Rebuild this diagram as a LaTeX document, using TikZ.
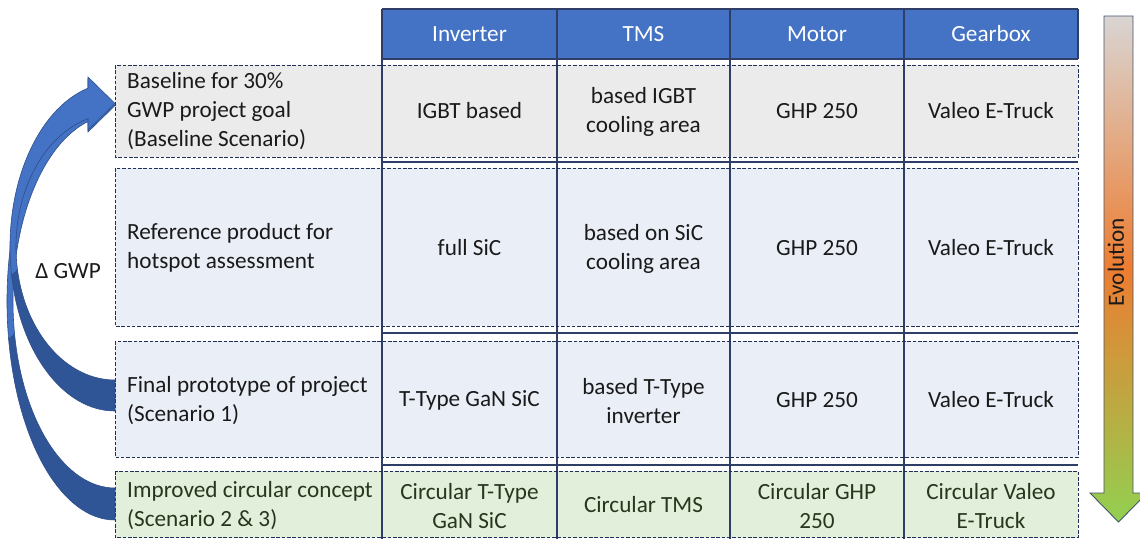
\documentclass[tikz,border=0pt]{standalone}
\usepackage{fontspec}
\setmainfont{Carlito}
\usetikzlibrary{calc}
\definecolor{hdr}{HTML}{4472C4}
\definecolor{gridc}{HTML}{2F3E67}
\definecolor{dashc}{HTML}{1F2F58}
\definecolor{rowgray}{HTML}{EBEBEB}
\definecolor{rowblue}{HTML}{EAEEF7}
\definecolor{rowgreen}{HTML}{E2EFDA}
\definecolor{txt}{HTML}{1A1A1A}
\definecolor{txtg}{HTML}{26371E}
\definecolor{arrlight}{HTML}{4472C4}
\definecolor{arrdark}{HTML}{2F5597}
\definecolor{arredge}{HTML}{2F4F8A}
\definecolor{evtop}{HTML}{D9D5D3}
\definecolor{evmid}{HTML}{ED7D31}
\definecolor{evbot}{HTML}{92D050}
\definecolor{evedge}{HTML}{44546A}
\begin{document}
\begin{tikzpicture}[x=1pt,y=1pt,
  every node/.style={font=\fontsize{23.2}{29}\selectfont, inner sep=0pt},
  cell/.style={align=center, text=txt},
  gcell/.style={align=center, text=txtg},
  hcell/.style={align=center, text=white},
  lbl/.style={align=left, anchor=west, text=txt},
  rowbox/.style={draw=dashc, line width=1pt, dash pattern=on 3.5pt off 1.8pt},
  gridline/.style={draw=gridc, line width=1.3pt},
  arrdk/.style={fill=arrdark, draw=arredge, line width=0.6pt},
  arrlt/.style={fill=arrlight, draw=arredge, line width=0.6pt}]
\useasboundingbox (0,0) rectangle (1140,-539);
\clip (0,0) rectangle (1140,-539);

% row fills
\fill[rowgray]  (115,-65)  rectangle (1078,-157);
\fill[rowblue]  (115,-168) rectangle (1078,-326);
\fill[rowblue]  (115,-341) rectangle (1078,-457);
\fill[rowgreen] (115,-471) rectangle (1078,-537.5);

% header
\fill[hdr] (382,-9) rectangle (1078,-59);
\draw[gridline] (382,-9) -- (1078,-9);
\draw[gridline] (382,-59) -- (1078,-59);
\draw[gridline] (1078,-9) -- (1078,-59);
\foreach \yy in {162,333,465} \draw[gridline] (382,-\yy) -- (1078,-\yy);
\foreach \xx in {382,557,730,904} \draw[gridline] (\xx,-9) -- (\xx,-539);

% dashed row borders
\draw[rowbox] (115,-65)  rectangle (1078,-157);
\draw[rowbox] (115,-168) rectangle (1078,-326);
\draw[rowbox] (115,-341) rectangle (1078,-457);
\draw[rowbox] (115,-471) rectangle (1078,-537.5);

% header texts
\node[hcell] (hinv) at (469.5,-34) {Inverter};
\node[hcell] (htms) at (643.5,-34) {TMS};
\node[hcell] (hmot) at (817,-34) {Motor};
\node[hcell] (hgear) at (991,-34) {Gearbox};

% row 1
\node[lbl] (l1) at (127,-111.5) {Baseline for 30\%\\GWP project goal\\(Baseline Scenario)};
\node[cell] (c11) at (469.5,-111) {IGBT based};
\node[cell] (c12) at (643.5,-112) {based IGBT\\cooling area};
\node[cell] (c13) at (817,-111) {GHP 250};
\node[cell] (c14) at (991,-111) {Valeo E-Truck};

% row 2
\node[lbl] (l2) at (127,-248) {Reference product for\\hotspot assessment};
\node[cell] (c21) at (469.5,-248) {full SiC};
\node[cell] (c22) at (643.5,-249) {based on SiC\\cooling area};
\node[cell] (c23) at (817,-248) {GHP 250};
\node[cell] (c24) at (991,-248) {Valeo E-Truck};

% row 3
\node[lbl] (l3) at (127,-401) {Final prototype of project\\(Scenario 1)};
\node[cell] (c31) at (469.5,-400) {T-Type GaN SiC};
\node[cell] (c32) at (643.5,-401) {based T-Type\\inverter};
\node[cell] (c33) at (817,-400) {GHP 250};
\node[cell] (c34) at (991,-400) {Valeo E-Truck};

% row 4
\node[lbl, text=txtg] (l4) at (127,-506) {Improved circular concept\\(Scenario 2 \& 3)};
\node[gcell] (c41) at (469.5,-506) {Circular T-Type\\GaN SiC};
\node[gcell] (c42) at (643.5,-505) {Circular TMS};
\node[gcell] (c43) at (817,-506) {Circular GHP\\250};
\node[gcell] (c44) at (991,-506) {Circular Valeo\\E-Truck};

% evolution arrow
\shadedraw[top color=evtop, bottom color=evbot, middle color=evmid, draw=evedge, line width=0.9pt]
  (1104,-16) -- (1133,-16) -- (1133,-493) -- (1147,-493) -- (1118.5,-522) -- (1090,-493) -- (1104,-493) -- cycle;
\node[rotate=90, text=txt] (evo) at (1116,-262) {Evolution};

% curved arrows
\coordinate (cB) at (115,-301.4);
\coordinate (cA) at (115,-246.8);
% arrow from row 4
\filldraw[arrdk] (115,-520) arc[start angle=270, end angle=190, x radius=108pt, y radius=218.6pt]
  -- ($(cB)+(190:102pt and 186.6pt)$) arc[start angle=190, end angle=270, x radius=102pt, y radius=186.6pt] -- cycle;
\filldraw[arrlt] ($(cB)+(190:108pt and 218.6pt)$) arc[start angle=190, end angle=104.48, x radius=108pt, y radius=218.6pt]
  -- (88,-79) -- (115,-105.5) -- (88,-132)
  -- ($(cB)+(105.35:102pt and 186.6pt)$) arc[start angle=105.35, end angle=190, x radius=102pt, y radius=186.6pt] -- cycle;
% arrow from row 3
\filldraw[arrdk] (115,-411) arc[start angle=270, end angle=190, x radius=105pt, y radius=164.2pt]
  -- ($(cA)+(190:99pt and 133.2pt)$) arc[start angle=190, end angle=270, x radius=99pt, y radius=133.2pt] -- cycle;
\filldraw[arrlt] ($(cA)+(190:105pt and 164.2pt)$) arc[start angle=190, end angle=104.9, x radius=105pt, y radius=164.2pt]
  -- (88,-77) -- (115,-103.5) -- (88,-130)
  -- ($(cA)+(105.8:99pt and 133.2pt)$) arc[start angle=105.8, end angle=190, x radius=99pt, y radius=133.2pt] -- cycle;

\node[text=txt] (dgwp) at (68,-271) {Δ GWP};
\end{tikzpicture}
\end{document}
